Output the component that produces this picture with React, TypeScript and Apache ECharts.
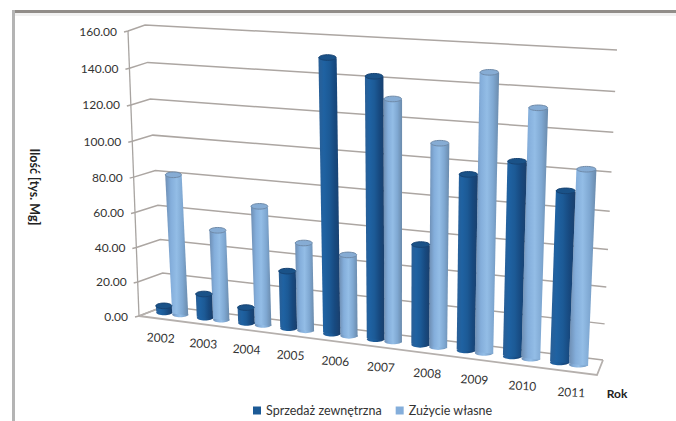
import React, { useEffect, useRef } from "react";
import * as echarts from "echarts";

const years = ["2002", "2003", "2004", "2005", "2006", "2007", "2008", "2009", "2010", "2011"];
const sprzedaz = [4, 14, 9, 33, 151, 143, 56, 96, 105, 92];
const zuzycie = [81, 52, 68, 50, 46, 132, 111, 149, 133, 104];
const valueTicks = [0, 20, 40, 60, 80, 100, 120, 140, 160];

type Pt = [number, number];

// Corners of the two bounding planes of the tilted box, in order:
// bottom-left, bottom-right, top-right, top-left.
const frontPlane: Pt[] = [[139, 316], [597, 375], [611, 66], [128, 31]];
const backPlane: Pt[] = [[165, 306], [603, 360], [617, 50], [145, 25]];

// Projective map from the unit square onto a quadrilateral.
function makeHomography(q: Pt[]) {
  const [[x0, y0], [x1, y1], [x2, y2], [x3, y3]] = q;
  const dx1 = x1 - x2, dx2 = x3 - x2, sx = x0 - x1 + x2 - x3;
  const dy1 = y1 - y2, dy2 = y3 - y2, sy = y0 - y1 + y2 - y3;
  const den = dx1 * dy2 - dx2 * dy1;
  const g = (sx * dy2 - dx2 * sy) / den;
  const h = (dx1 * sy - sx * dy1) / den;
  const a = x1 - x0 + g * x1, b = x3 - x0 + h * x3;
  const d = y1 - y0 + g * y1, e = y3 - y0 + h * y3;
  return (u: number, v: number): Pt => {
    const w = g * u + h * v + 1;
    return [(a * u + b * v + x0) / w, (d * u + e * v + y0) / w];
  };
}

const mapFront = makeHomography(frontPlane);
const mapBack = makeHomography(backPlane);

function project(u: number, v: number, depth: number): Pt {
  const f = mapFront(u, v);
  const b = mapBack(u, v);
  return [f[0] + (b[0] - f[0]) * depth, f[1] + (b[1] - f[1]) * depth];
}

// Plot coordinates from the hidden cartesian axes, normalised to the unit square.
function toUnit(params: any, c: number[]): Pt {
  const s = params.coordSys;
  return [(c[0] - s.x) / s.width, 1 - (c[1] - s.y) / s.height];
}

const fontFamily = "Lato, 'Open Sans', sans-serif";
const gridColor = "#aca6a2";
const BAR_W = 0.039;
const BAR_DEPTH = 0.5;
const BAR_SPREAD = 0.986;

function gradient(stops: string[]) {
  return new echarts.graphic.LinearGradient(
    0, 0, 1, 0,
    stops.map((color, i) => ({ offset: i / (stops.length - 1), color }))
  );
}

const darkBody = ["#2a5f96", "#1f62a2", "#1c5a96", "#17497f", "#1a3f6c"];
const lightBody = ["#6d8db2", "#84aedb", "#93bde6", "#7fa8d2", "#6a8aab"];

function cylinder(side: number, stops: string[], capFill: string, capStroke: string) {
  return (params: any, api: any) => {
    const i = api.value(0);
    const val = api.value(1);
    const [uc, vTop] = toUnit(params, api.coord([i, val]));
    const [, vBase] = toUnit(params, api.coord([i, 0]));
    const u = uc * BAR_SPREAD + (side * BAR_W) / 2;
    const bl = project(u - BAR_W / 2, vBase, BAR_DEPTH);
    const br = project(u + BAR_W / 2, vBase, BAR_DEPTH);
    const tl = project(u - BAR_W / 2, vTop, BAR_DEPTH);
    const tr = project(u + BAR_W / 2, vTop, BAR_DEPTH);
    const rx = (br[0] - bl[0]) / 2;
    const ry = 2.8;
    const fill = gradient(stops);
    return {
      type: "group",
      children: [
        {
          type: "ellipse",
          shape: { cx: (bl[0] + br[0]) / 2, cy: (bl[1] + br[1]) / 2, rx, ry },
          style: { fill },
        },
        {
          type: "polygon",
          shape: { points: [tl, tr, br, bl] },
          style: { fill },
        },
        {
          type: "ellipse",
          shape: { cx: (tl[0] + tr[0]) / 2, cy: (tl[1] + tr[1]) / 2, rx, ry },
          style: { fill: capFill, stroke: capStroke, lineWidth: 1 },
        },
      ],
    };
  };
}

function renderGridLine(params: any, api: any) {
  const [, v] = toUnit(params, api.coord([0, api.value(1)]));
  const front = project(0, v, 0);
  const backLeft = project(0, v, 1);
  const backRight = project(1, v, 1);
  return {
    type: "polyline",
    shape: { points: [[front[0] - 4, front[1] + 1], front, backLeft, backRight] },
    style: { fill: "none", stroke: gridColor, lineWidth: 1.5 },
  };
}

function renderValueLabel(params: any, api: any) {
  const val = api.value(1);
  const [, v] = toUnit(params, api.coord([0, val]));
  const p = project(0, v, 0);
  return {
    type: "text",
    x: p[0] - 11,
    y: p[1],
    style: {
      text: val.toFixed(2),
      align: "right",
      verticalAlign: "middle",
      font: `12px ${fontFamily}`,
      fill: "#333",
    },
  };
}

function renderYearLabel(params: any, api: any) {
  const i = api.value(0);
  const [u] = toUnit(params, api.coord([i, 0]));
  const p = project(u, -0.07, 0);
  return {
    type: "text",
    x: p[0],
    y: p[1],
    rotation: -0.06,
    style: {
      text: years[i],
      align: "center",
      verticalAlign: "middle",
      font: `12px ${fontFamily}`,
      fill: "#333",
    },
  };
}

function renderFloor(params: any, api: any) {
  const [, v] = toUnit(params, api.coord([0, 0]));
  const fl = project(0, v, 0);
  const fr = project(1, v, 0);
  const br = project(1, v, 1);
  const bl = project(0, v, 1);
  const topFront = project(0, 1, 0);
  return {
    type: "group",
    children: [
      {
        type: "polyline",
        shape: { points: [bl, fl, fr, br] },
        style: { fill: "none", stroke: "#b5b0ad", lineWidth: 1.8 },
      },
      {
        type: "line",
        shape: { x1: topFront[0], y1: topFront[1], x2: fl[0], y2: fl[1] },
        style: { stroke: "#a8a4a1", lineWidth: 1.3 },
      },
    ],
  };
}

export default function App() {
  const ref = useRef<HTMLDivElement>(null);

  useEffect(() => {
    const chart = echarts.init(ref.current!, undefined, { renderer: "svg" });
    chart.setOption({
      animation: false,
      backgroundColor: "#fff",
      grid: { left: 60, right: 60, top: 30, bottom: 60 },
      xAxis: { type: "category", data: years, show: false },
      yAxis: { type: "value", min: 0, max: 160, interval: 20, show: false },
      legend: {
        left: 253,
        top: 404,
        itemWidth: 8,
        itemHeight: 8,
        itemGap: 14,
        padding: 0,
        selectedMode: false,
        icon: "rect",
        textStyle: { fontFamily, fontSize: 12.5, color: "#333", padding: [0, 0, 0, 0] },
        data: [
          { name: "Sprzedaż zewnętrzna", itemStyle: { color: "#1c5a96" } },
          { name: "Zużycie własne", itemStyle: { color: "#84aedb" } },
        ],
      },
      graphic: [
        { type: "rect", shape: { x: 12, y: 10, width: 664, height: 3 }, style: { fill: "#918d89" } },
        { type: "rect", shape: { x: 12, y: 13, width: 664, height: 3 }, style: { fill: "#f1f1f1" } },
        { type: "rect", shape: { x: 12, y: 10, width: 3, height: 411 }, style: { fill: "#b4b4b4" } },
        {
          type: "text",
          x: 34,
          y: 187,
          rotation: Math.PI / 2 + Math.PI,
          style: {
            text: "Ilość [tys. Mg]",
            align: "center",
            verticalAlign: "middle",
            font: `bold 12.5px ${fontFamily}`,
            fill: "#222",
          },
        },
        {
          type: "text",
          x: 617,
          y: 393,
          style: {
            text: "Rok",
            align: "center",
            verticalAlign: "middle",
            font: `bold 12px ${fontFamily}`,
            fill: "#222",
          },
        },
      ],
      series: [
        {
          type: "custom",
          z: 1,
          silent: true,
          renderItem: renderGridLine,
          data: valueTicks.map((t) => [0, t]),
        },
        {
          type: "custom",
          z: 1,
          silent: true,
          renderItem: renderFloor,
          data: [[0, 0]],
        },
        {
          type: "custom",
          z: 1,
          silent: true,
          renderItem: renderValueLabel,
          data: valueTicks.map((t) => [0, t]),
        },
        {
          type: "custom",
          z: 1,
          silent: true,
          renderItem: renderYearLabel,
          data: years.map((_, i) => [i, 0]),
        },
        {
          type: "custom",
          name: "Zużycie własne",
          z: 2,
          itemStyle: { color: "#84aedb" },
          renderItem: cylinder(1, lightBody, "#86acd4", "#6f8aa8"),
          data: zuzycie.map((v, i) => [i, v]),
        },
        {
          type: "custom",
          name: "Sprzedaż zewnętrzna",
          z: 3,
          itemStyle: { color: "#1c5a96" },
          renderItem: cylinder(-1, darkBody, "#1a5288", "#174372"),
          data: sprzedaz.map((v, i) => [i, v]),
        },
      ],
    });
    return () => chart.dispose();
  }, []);

  return <div ref={ref} style={{ position: "absolute", left: 0, top: 0, width: 676, height: 421 }} />;
}
